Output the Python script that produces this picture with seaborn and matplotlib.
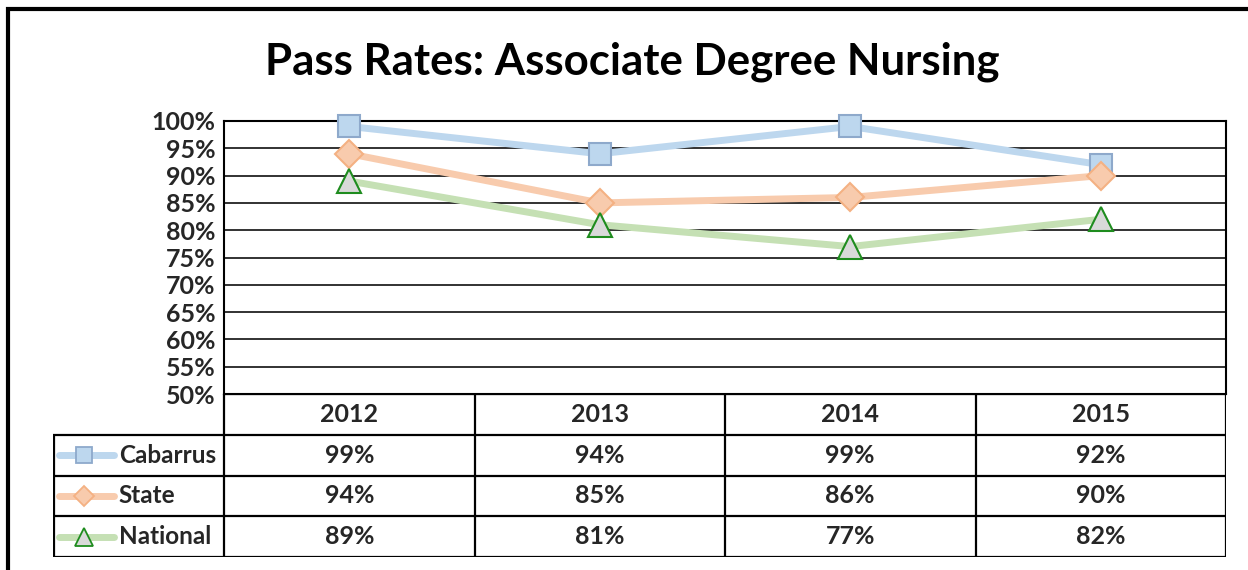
import numpy as np
import pandas as pd
import matplotlib
matplotlib.use('Agg')
import matplotlib.pyplot as plt
import seaborn as sns
from matplotlib.patches import Rectangle

# data
years = ['2012', '2013', '2014', '2015']
cabarrus = [99, 94, 99, 92]
state = [94, 85, 86, 90]
national = [89, 81, 77, 82]
series_names = ['Cabarrus', 'State', 'National']
y_ticks = [50, 55, 60, 65, 70, 75, 80, 85, 90, 95, 100]
title = 'Pass Rates: Associate Degree Nursing'

# styles per series: line colour, marker, marker face, marker edge
styles = {
    'Cabarrus': dict(line='#BDD7EE', marker='s', face='#BDD7EE', edge='#8EA9CB', ms=16),
    'State': dict(line='#F8CBAD', marker='D', face='#F8CBAD', edge='#F4B183', ms=14),
    'National': dict(line='#C5E0B4', marker='^', face='#D9D9D9', edge='#1E8C1E', ms=17),
}

sns.set_theme(style='white')
plt.rcParams['font.family'] = ['Lato', 'DejaVu Sans']
plt.rcParams['font.weight'] = 'bold'

W, H = 1248, 570
fig = plt.figure(figsize=(W / 100, H / 100), dpi=100)

def fx(px):
    return px / W

def fy(py):
    return 1 - py / H

# outer frame (left and top edges visible)
fig.patches.append(Rectangle((fx(8), fy(600)), fx(1300), fy(9) - fy(600),
                             transform=fig.transFigure, fill=False,
                             edgecolor='black', linewidth=3, zorder=0))

fig.text(fx(632), fy(62), title, ha='center', va='center',
         fontsize=31.5, fontweight='bold', color='black')

# main plot area
x0, x1, ytop, ybot = 224, 1226, 121, 394
ax = fig.add_axes([fx(x0), fy(ybot), fx(x1 - x0), fy(ytop) - fy(ybot)])

df = pd.DataFrame({
    'year': np.tile(np.arange(len(years)), 3),
    'value': cabarrus + state + national,
    'series': np.repeat(series_names, len(years)),
})

for name in series_names:
    st = styles[name]
    sub = df[df['series'] == name]
    sns.lineplot(data=sub, x='year', y='value', ax=ax, color=st['line'],
                 linewidth=5, marker=st['marker'], markersize=st['ms'],
                 markerfacecolor=st['face'], markeredgecolor=st['edge'],
                 markeredgewidth=1.5, zorder=3, legend=False, clip_on=False)

ax.set_xlim(-0.5, len(years) - 0.5)
ax.set_ylim(50, 100)
ax.set_yticks(y_ticks)
ax.set_yticklabels([f'{v}%' for v in y_ticks], fontsize=18, fontweight='bold')
ax.set_xticks([])
ax.set_xlabel('')
ax.set_ylabel('')
ax.tick_params(axis='y', length=0, pad=6)
for v in y_ticks:
    ax.axhline(v, color='#222222', linewidth=1.3, zorder=1)
for sp in ax.spines.values():
    sp.set_color('black')
    sp.set_linewidth(1.5)
ax.patch.set_alpha(0)

# data table below the plot
leg_left = 53
band = (x1 - x0) / len(years)
tbot = 557
tax = fig.add_axes([fx(leg_left), fy(tbot), fx(x1 - leg_left), fy(ybot) - fy(tbot)])
left_lim = -0.5 - (x0 - leg_left) / band
tax.set_xlim(left_lim, len(years) - 0.5)
tax.set_ylim(len(series_names) + 1, 0)
tax.axis('off')

lk = dict(color='black', linewidth=1.6, solid_capstyle='butt')
tax.plot([-0.5, len(years) - 0.5], [0, 0], **lk)
for i in range(len(years) + 1):
    tax.plot([i - 0.5, i - 0.5], [0, len(series_names) + 1], **lk)
for r in range(1, len(series_names) + 2):
    tax.plot([left_lim, len(years) - 0.5], [r, r], **lk)
tax.plot([left_lim + 0.003, left_lim + 0.003], [1, len(series_names) + 1], **lk)

for i, yr in enumerate(years):
    tax.text(i, 0.5, yr, ha='center', va='center', fontsize=18, fontweight='bold')

values = [cabarrus, state, national]
for r, (name, vals) in enumerate(zip(series_names, values)):
    st = styles[name]
    yrow = r + 1.5
    tax.plot([left_lim + 0.025, left_lim + 0.245], [yrow, yrow], color=st['line'],
             linewidth=5, solid_capstyle='round')
    tax.plot([left_lim + 0.124], [yrow], marker=st['marker'], markersize=st['ms'] * 0.75,
             markerfacecolor=st['face'], markeredgecolor=st['edge'], markeredgewidth=1.3,
             linestyle='none')
    tax.text(left_lim + 0.262, yrow, name, ha='left', va='center', fontsize=17.5,
             fontweight='bold')
    for i, v in enumerate(vals):
        tax.text(i, yrow, f'{v}%', ha='center', va='center', fontsize=18,
                 fontweight='bold')

fig.savefig('out.png', dpi=100)
